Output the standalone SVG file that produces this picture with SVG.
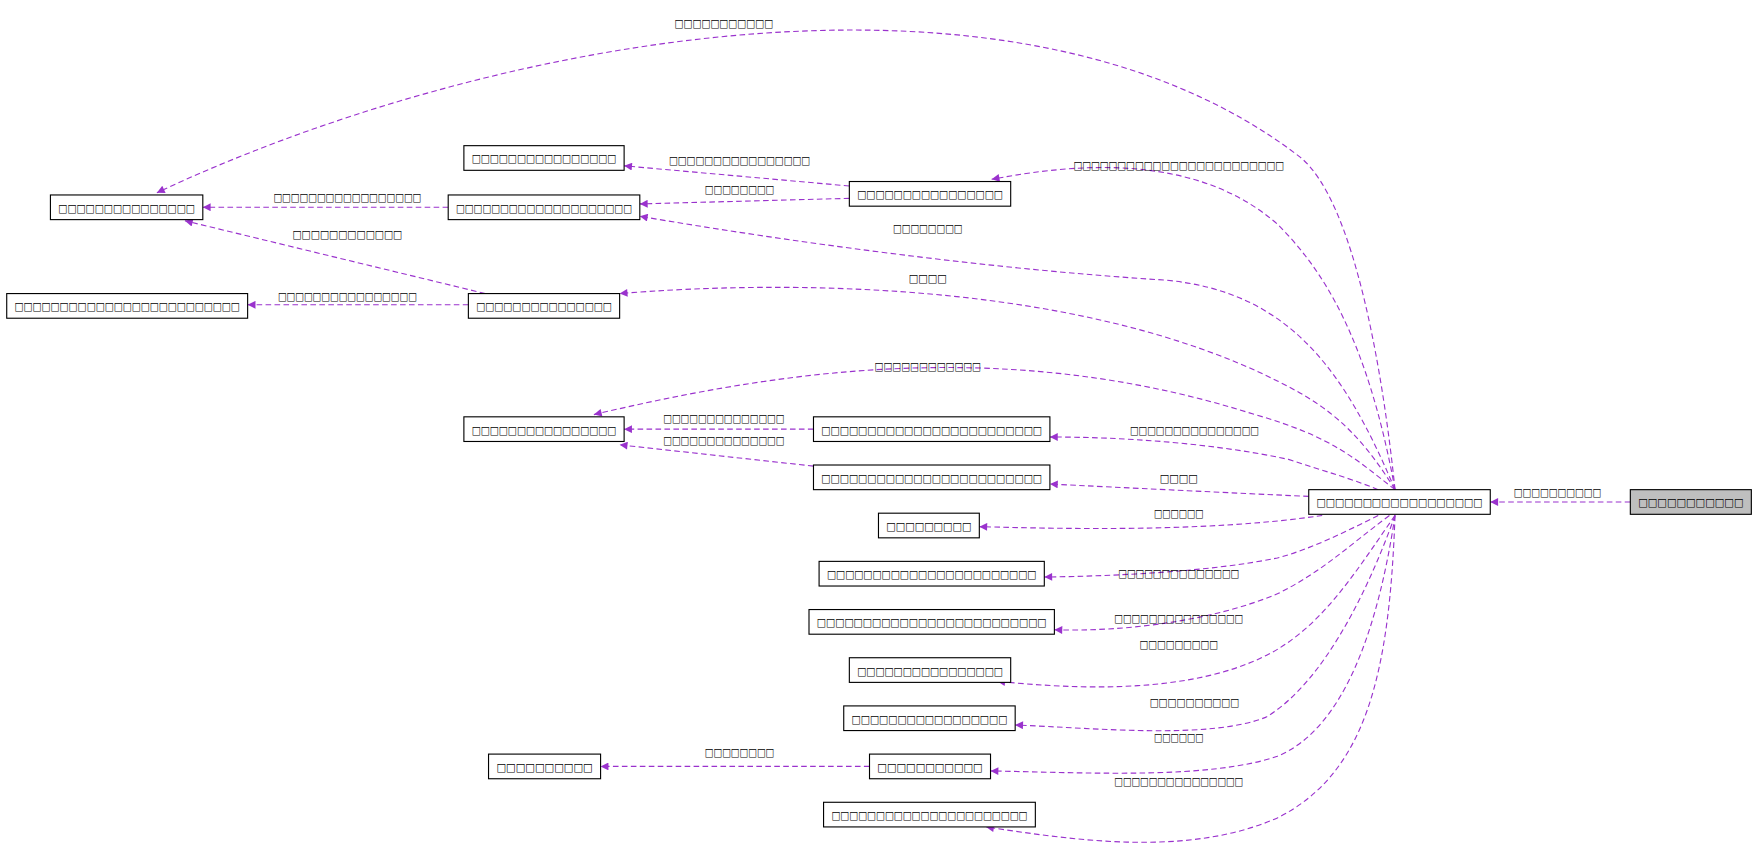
<svg xmlns="http://www.w3.org/2000/svg" width="1757" height="853" viewBox="0 0 1757 853">
<style>
.n rect{fill:#fff;stroke:#000;stroke-width:1}
.n text,.l{font-family:"DejaVu Sans",sans-serif;font-size:10px;fill:#000;text-anchor:middle}
.e{fill:none;stroke:#9a32cd;stroke-width:1;stroke-dasharray:5,3;marker-end:url(#a)}
</style>
<defs><marker id="a" viewBox="0 0 10 10" refX="10" refY="5" markerWidth="10" markerHeight="7" orient="auto" markerUnits="userSpaceOnUse"><path d="M0,0L10,5L0,10z" fill="#9a32cd"/></marker></defs>
<rect width="1757" height="853" fill="#fff"/>
<g transform="scale(1.1205)">
<g id="connectors">
<path class="e" d="M1245,437 C1235,340 1210,180 1160,140 C900,-60 420,40 140,172"/>
<path class="e" d="M1245,437 C1220,300 1180,240 1140,200 C1060,130 940,150 885,160"/>
<path class="e" d="M1245,437 C1200,330 1150,260 1040,250 C880,240 700,215 571,193"/>
<path class="e" d="M1245,437 C1210,380 1180,360 1140,340 C960,250 700,250 553,262"/>
<path class="e" d="M1245,437 C1210,410 1190,390 1120,370 C900,300 700,330 530,370"/>
<path class="e" d="M1230,437 C1200,425 1180,420 1150,410 C1080,395 1000,390 937,390"/>
<path class="e" d="M1168,443 C1100,440 1000,435 937,432"/>
<path class="e" d="M1180,460 C1080,475 950,472 874,470"/>
<path class="e" d="M1230,460 C1200,475 1170,490 1140,498 C1080,510 1000,514 932,515"/>
<path class="e" d="M1240,460 C1200,490 1180,510 1140,530 C1080,555 1000,564 941,562"/>
<path class="e" d="M1245,460 C1210,510 1180,560 1130,585 C1060,620 960,615 890,608"/>
<path class="e" d="M1245,460 C1220,530 1180,610 1130,640 C1080,660 980,650 906,647"/>
<path class="e" d="M1245,460 C1230,560 1200,650 1140,675 C1080,695 980,690 884,688"/>
<path class="e" d="M1245,460 C1240,600 1220,690 1140,730 C1060,765 960,750 880,738"/>
<path class="e" d="M1455,448 L1330,448"/>
<path class="e" d="M758,166 L557,148"/>
<path class="e" d="M758,177 L571,182"/>
<path class="e" d="M400,185 L181,185"/>
<path class="e" d="M433,262 L165,197"/>
<path class="e" d="M418,272 L221,272"/>
<path class="e" d="M726,383 L557,383"/>
<path class="e" d="M726,416 L553,397"/>
<path class="e" d="M776,684 L536,684"/>
<text class="l" x="646" y="24" textLength="88" lengthAdjust="spacingAndGlyphs">□□□□□□□□□□□</text>
<text class="l" x="1052" y="151" textLength="188" lengthAdjust="spacingAndGlyphs">□□□□□□□□□□□□□□□□□□□□□□□□</text>
<text class="l" x="828" y="207" textLength="62" lengthAdjust="spacingAndGlyphs">□□□□□□□□</text>
<text class="l" x="828" y="252" textLength="34" lengthAdjust="spacingAndGlyphs">□□□□</text>
<text class="l" x="828" y="330" textLength="95" lengthAdjust="spacingAndGlyphs">□□□□□□□□□□□□</text>
<text class="l" x="1066" y="387" textLength="115" lengthAdjust="spacingAndGlyphs">□□□□□□□□□□□□□□□</text>
<text class="l" x="1052" y="430" textLength="34" lengthAdjust="spacingAndGlyphs">□□□□</text>
<text class="l" x="1052" y="461" textLength="44" lengthAdjust="spacingAndGlyphs">□□□□□□</text>
<text class="l" x="1052" y="515" textLength="108" lengthAdjust="spacingAndGlyphs">□□□□□□□□□□□□□□</text>
<text class="l" x="1052" y="555" textLength="115" lengthAdjust="spacingAndGlyphs">□□□□□□□□□□□□□□□</text>
<text class="l" x="1052" y="578" textLength="70" lengthAdjust="spacingAndGlyphs">□□□□□□□□□</text>
<text class="l" x="1066" y="630" textLength="80" lengthAdjust="spacingAndGlyphs">□□□□□□□□□□</text>
<text class="l" x="1052" y="661" textLength="44" lengthAdjust="spacingAndGlyphs">□□□□□□</text>
<text class="l" x="1052" y="701" textLength="115" lengthAdjust="spacingAndGlyphs">□□□□□□□□□□□□□□□</text>
<text class="l" x="1390" y="443" textLength="78" lengthAdjust="spacingAndGlyphs">□□□□□□□□□□</text>
<text class="l" x="660" y="146" textLength="126" lengthAdjust="spacingAndGlyphs">□□□□□□□□□□□□□□□□</text>
<text class="l" x="660" y="172" textLength="62" lengthAdjust="spacingAndGlyphs">□□□□□□□□</text>
<text class="l" x="310" y="179" textLength="132" lengthAdjust="spacingAndGlyphs">□□□□□□□□□□□□□□□□□</text>
<text class="l" x="310" y="212" textLength="98" lengthAdjust="spacingAndGlyphs">□□□□□□□□□□□□</text>
<text class="l" x="310" y="268" textLength="124" lengthAdjust="spacingAndGlyphs">□□□□□□□□□□□□□□□□</text>
<text class="l" x="646" y="377" textLength="108" lengthAdjust="spacingAndGlyphs">□□□□□□□□□□□□□□</text>
<text class="l" x="646" y="396" textLength="108" lengthAdjust="spacingAndGlyphs">□□□□□□□□□□□□□□</text>
<text class="l" x="660" y="675" textLength="62" lengthAdjust="spacingAndGlyphs">□□□□□□□□</text>
</g>
<g id="n0" class="n"><rect x="1455" y="437" width="108" height="22" style="fill:#bfbfbf"/><text x="1509" y="452" textLength="94" lengthAdjust="spacingAndGlyphs">□□□□□□□□□□□</text></g>
<g id="n1" class="n"><rect x="1168" y="437" width="162" height="22"/><text x="1249" y="452" textLength="148" lengthAdjust="spacingAndGlyphs">□□□□□□□□□□□□□□□□□□</text></g>
<g id="n2" class="n"><rect x="45" y="174" width="136" height="22"/><text x="113" y="189" textLength="122" lengthAdjust="spacingAndGlyphs">□□□□□□□□□□□□□□□</text></g>
<g id="n3" class="n"><rect x="414" y="130" width="143" height="22"/><text x="485.5" y="145" textLength="129" lengthAdjust="spacingAndGlyphs">□□□□□□□□□□□□□□□□</text></g>
<g id="n4" class="n"><rect x="400" y="174" width="171" height="22"/><text x="485.5" y="189" textLength="157" lengthAdjust="spacingAndGlyphs">□□□□□□□□□□□□□□□□□□□□</text></g>
<g id="n5" class="n"><rect x="758" y="162" width="144" height="22"/><text x="830" y="177" textLength="130" lengthAdjust="spacingAndGlyphs">□□□□□□□□□□□□□□□□</text></g>
<g id="n6" class="n"><rect x="418" y="262" width="135" height="22"/><text x="485.5" y="277" textLength="121" lengthAdjust="spacingAndGlyphs">□□□□□□□□□□□□□□□</text></g>
<g id="n7" class="n"><rect x="6" y="262" width="215" height="22"/><text x="113.5" y="277" textLength="201" lengthAdjust="spacingAndGlyphs">□□□□□□□□□□□□□□□□□□□□□□□□□</text></g>
<g id="n8" class="n"><rect x="414" y="372" width="143" height="22"/><text x="485.5" y="387" textLength="129" lengthAdjust="spacingAndGlyphs">□□□□□□□□□□□□□□□□</text></g>
<g id="n9" class="n"><rect x="726" y="372" width="211" height="22"/><text x="831.5" y="387" textLength="197" lengthAdjust="spacingAndGlyphs">□□□□□□□□□□□□□□□□□□□□□□□□</text></g>
<g id="n10" class="n"><rect x="726" y="415" width="211" height="22"/><text x="831.5" y="430" textLength="197" lengthAdjust="spacingAndGlyphs">□□□□□□□□□□□□□□□□□□□□□□□□</text></g>
<g id="n11" class="n"><rect x="784" y="458" width="90" height="22"/><text x="829" y="473" textLength="76" lengthAdjust="spacingAndGlyphs">□□□□□□□□□</text></g>
<g id="n12" class="n"><rect x="731" y="501" width="201" height="22"/><text x="831.5" y="516" textLength="187" lengthAdjust="spacingAndGlyphs">□□□□□□□□□□□□□□□□□□□□□□□</text></g>
<g id="n13" class="n"><rect x="722" y="544" width="219" height="22"/><text x="831.5" y="559" textLength="205" lengthAdjust="spacingAndGlyphs">□□□□□□□□□□□□□□□□□□□□□□□□□</text></g>
<g id="n14" class="n"><rect x="758" y="587" width="144" height="22"/><text x="830" y="602" textLength="130" lengthAdjust="spacingAndGlyphs">□□□□□□□□□□□□□□□□</text></g>
<g id="n15" class="n"><rect x="753" y="630" width="153" height="22"/><text x="829.5" y="645" textLength="139" lengthAdjust="spacingAndGlyphs">□□□□□□□□□□□□□□□□□</text></g>
<g id="n16" class="n"><rect x="436" y="673" width="100" height="22"/><text x="486" y="688" textLength="86" lengthAdjust="spacingAndGlyphs">□□□□□□□□□□</text></g>
<g id="n17" class="n"><rect x="776" y="673" width="108" height="22"/><text x="830" y="688" textLength="94" lengthAdjust="spacingAndGlyphs">□□□□□□□□□□□</text></g>
<g id="n18" class="n"><rect x="735" y="716" width="189" height="22"/><text x="829.5" y="731" textLength="175" lengthAdjust="spacingAndGlyphs">□□□□□□□□□□□□□□□□□□□□□□</text></g>
</g>
</svg>
